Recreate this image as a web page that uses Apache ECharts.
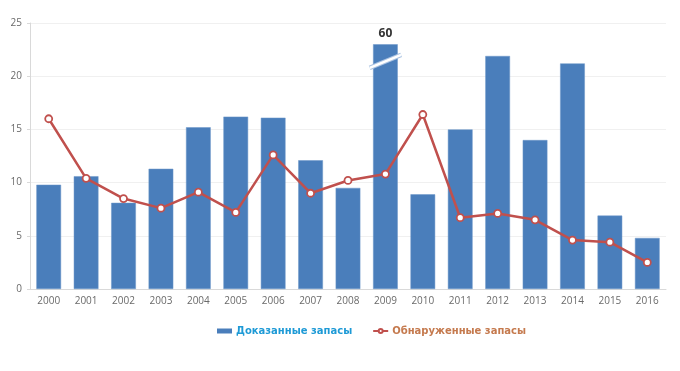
<!DOCTYPE html>
<html><head><meta charset="utf-8">
<script src="https://cdn.jsdelivr.net/npm/echarts@6/dist/echarts.min.js"></script>
<style>html,body{margin:0;padding:0;background:#fff}#c{width:680px;height:371px}</style>
</head><body><div id="c"></div>
<script>
const years = ['2000','2001','2002','2003','2004','2005','2006','2007','2008','2009','2010','2011','2012','2013','2014','2015','2016'];
const provedReserves = [9.8,10.6,8.1,11.3,15.2,16.2,16.1,12.1,9.5,60,8.9,15.0,21.9,14.0,21.2,6.9,4.8];
const discoveredReserves = [16.0,10.4,8.5,7.6,9.1,7.2,12.6,9.0,10.2,10.8,16.4,6.7,7.1,6.5,4.6,4.4,2.5];
const yTicks = [0,5,10,15,20,25];
const barCap = 23;      // broken-axis display height for oversized bars
const breakAt = 21.4;   // where the break marker sits on a capped bar
const seriesNames = ['Доказанные запасы','Обнаруженные запасы'];

const barData = provedReserves.map(v => v > barCap
  ? {value: barCap, label: {show: true, formatter: String(v)}}
  : v);
const breakData = provedReserves.map((v,i) => v > barCap ? [i, breakAt] : null).filter(Boolean);

const chart = echarts.init(document.getElementById('c'), null, {renderer:'canvas'});
chart.setOption({
  animation: false,
  grid: {left: 30, right: 14, top: 23, bottom: 82},
  legend: {
    top: 321, left: 212, itemGap: 20, itemWidth: 15, itemHeight: 5,
    data: [
      {name: seriesNames[0], icon: 'rect', itemStyle: {borderWidth: 0}, textStyle: {color: '#1e9ad6'}},
      {name: seriesNames[1], textStyle: {color: '#c57a4e'}}
    ],
    textStyle: {fontFamily: 'DejaVu Sans', fontSize: 10, fontWeight: 'bold', padding: [0,0,0,-1]}
  },
  xAxis: {
    type: 'category', data: years,
    axisLine: {lineStyle: {color: '#d9d9d9'}},
    axisTick: {lineStyle: {color: '#d9d9d9'}, length: 4},
    axisLabel: {color: '#6a6a6a', fontSize: 10, fontFamily: 'Open Sans', margin: 7}
  },
  yAxis: {
    type: 'value', min: yTicks[0], max: yTicks[yTicks.length-1], interval: 5,
    axisLine: {show: true, lineStyle: {color: '#d9d9d9'}},
    axisTick: {show: true, lineStyle: {color: '#d9d9d9'}, length: 3},
    axisLabel: {color: '#6a6a6a', fontSize: 10, fontFamily: 'Open Sans', margin: 8},
    splitLine: {lineStyle: {color: '#f0f0f0'}}
  },
  series: [
    {
      name: seriesNames[0], type: 'bar', data: barData, barCategoryGap: '34%',
      itemStyle: {color: '#4a7ebb', borderColor: '#6d97c9', borderWidth: 0.5},
      label: {show: false, position: 'top', color: '#333', fontWeight: 'bold', fontSize: 12, fontFamily: 'Open Sans', distance: 5}
    },
    {
      name: seriesNames[1], type: 'line', data: discoveredReserves,
      symbol: 'circle', symbolSize: 7,
      lineStyle: {color: '#c0504d', width: 2.5},
      itemStyle: {color: '#fff', borderColor: '#c0504d', borderWidth: 1.8},
      z: 5
    },
    {
      type: 'custom', data: breakData, z: 4, silent: true,
      renderItem: function(params, api) {
        const p = api.coord([api.value(0), api.value(1)]);
        const w = api.size([1,0])[0] * 0.42;
        const h = 6.5;
        return {type: 'group', children: [
          {type: 'line', shape: {x1: p[0]-w, y1: p[1]+h, x2: p[0]+w, y2: p[1]-h}, style: {stroke: '#a9c2e2', lineWidth: 4.5}},
          {type: 'line', shape: {x1: p[0]-w, y1: p[1]+h, x2: p[0]+w, y2: p[1]-h}, style: {stroke: '#ffffff', lineWidth: 2.5}}
        ]};
      }
    }
  ]
});
</script></body></html>
